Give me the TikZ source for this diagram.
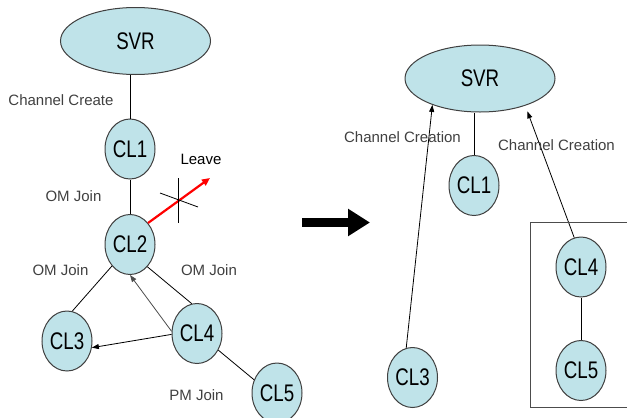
\documentclass[tikz,border=0pt]{standalone}
\usepackage{fontspec}
\setmainfont{Liberation Sans}
\newfontfamily\nodefont[FakeStretch=0.78]{Liberation Sans}
\usetikzlibrary{shapes.geometric,arrows.meta}
\definecolor{nodefill}{RGB}{191,227,233}
\definecolor{labgray}{RGB}{64,64,64}
\tikzset{
  cl/.style={ellipse, draw=black!75, line width=1pt, fill=nodefill,
    minimum width=50pt, minimum height=60pt, inner sep=0pt,
    font=\nodefont\fontsize{24}{24}\selectfont},
  svr/.style={cl, minimum width=150pt, minimum height=67pt},
  lab/.style={font=\fontsize{15}{15}\selectfont, text=labgray, inner sep=0pt},
  conn/.style={line width=0.8pt},
  arr/.style={conn, -{Triangle[length=7pt,width=5pt]}}
}
\begin{document}
\begin{tikzpicture}[x=1pt,y=-1pt]
\useasboundingbox (0,0) rectangle (627,418);
% left graph
\node[svr] (svrA) at (135.5,41) {SVR};
\node[cl] (a1) at (130,149) {CL1};
\node[cl] (a2) at (130,244.5) {CL2};
\node[cl] (a3) at (67,341) {CL3};
\node[cl] (a4) at (197,333.5) {CL4};
\node[cl] (a5) at (277,393) {CL5};
\draw[conn] (a1.north) -- (a1.north |- svrA.south);
\draw[conn] (a1) -- (a2);
\draw[conn] (a2.230) -- (a3.80);
\draw[conn] (a2.-52) -- (a4.100);
\draw[conn] (a4.-38) -- (a5.150);
\draw[arr, draw=black!70] (a4.175) -- (a2.south);
\draw[arr] (a4.182) -- (a3.-15);
\coordinate (leaveEnd) at (210,178);
\draw[red, line width=2.2pt, -{Triangle[length=8pt,width=7pt]}] (a2.50) -- (leaveEnd);
\coordinate (x1) at (178,178);
\coordinate (x2) at (178,223);
\coordinate (x3) at (160,193);
\coordinate (x4) at (198,207);
\draw[line width=0.8pt] (x1) -- (x2);
\draw[line width=0.8pt] (x3) -- (x4);
\node[lab] (lcc) at (61,100) {Channel Create};
\node[lab, text=black] (lleave) at (201,159) {Leave};
\node[lab] (lom1) at (73.5,196) {OM Join};
\node[lab] (lom2) at (60.5,270) {OM Join};
\node[lab] (lom3) at (209,270) {OM Join};
\node[lab] (lpm) at (196.5,395) {PM Join};
% big arrow
\coordinate (bigS) at (302,222.5);
\coordinate (bigE) at (370,222.5);
\draw[line width=9pt, -{Triangle[length=22pt,width=26pt]}] (bigS) -- (bigE);
% right graph
\node[svr] (svrB) at (480,78.5) {SVR};
\node[cl] (b1) at (474,185.5) {CL1};
\node[cl] (b3) at (412.5,377.5) {CL3};
\node[cl] (b4) at (581,267) {CL4};
\node[cl] (b5) at (581,370.5) {CL5};
\draw[conn] (b1.north) -- (b1.north |- svrB.south);
\draw[conn] (b4) -- (b5);
\draw[arr] (b3.102) -- (svrB.209);
\draw[arr, shorten >=6pt] (b4.103) -- (svrB.-31);
\draw[draw=black!70, line width=0.8pt] (627,222) -- (530,222) -- (530,407) -- (627,407);
\node[lab] (lcr1) at (402.5,137) {Channel Creation};
\node[lab] (lcr2) at (556.5,145) {Channel Creation};
\end{tikzpicture}
\end{document}
